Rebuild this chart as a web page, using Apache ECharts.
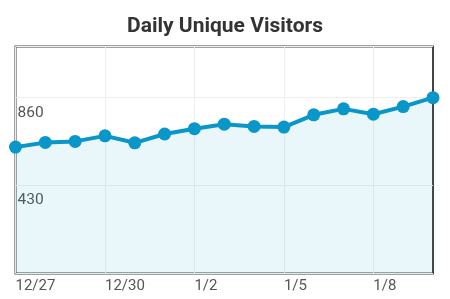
<!DOCTYPE html>
<html>
<head>
<meta charset="utf-8">
<script src="https://cdn.jsdelivr.net/npm/echarts@6/dist/echarts.min.js"></script>
<style>
  html, body { margin: 0; padding: 0; background: #fff; }
  #chart { width: 450px; height: 299px; }
</style>
</head>
<body>
<div id="chart"></div>
<script>
// daily visitors, 12/27 .. 1/10
const days = ['12/27', '12/28', '12/29', '12/30', '12/31', '1/1', '1/2', '1/3',
  '1/4', '1/5', '1/6', '1/7', '1/8', '1/9', '1/10'];
const visitors = [618, 641, 646, 673, 639, 682, 708, 730, 719, 716, 776, 805, 779, 816, 860];
const yTicks = [0, 430, 860];

const chart = echarts.init(document.getElementById('chart'));

chart.setOption({
  backgroundColor: '#ffffff',
  title: {
    text: 'Daily Unique Visitors',
    left: 'center',
    top: 11,
    textStyle: {
      fontFamily: 'Roboto',
      fontWeight: 'bold',
      fontSize: 21,
      color: '#333'
    }
  },
  grid: {
    left: 15.5,
    right: 17,
    top: 46.5,
    bottom: 25.5,
    show: true,
    borderColor: '#444',
    borderWidth: 2
  },
  xAxis: {
    type: 'category',
    data: days,
    boundaryGap: false,
    axisLine: { show: false },
    axisTick: { show: false },
    axisLabel: {
      interval: 2,
      align: 'left',
      margin: 5,
      fontFamily: 'Roboto',
      fontSize: 15,
      color: '#555'
    },
    splitLine: {
      show: true,
      interval: 2,
      lineStyle: { color: '#eeeeee', width: 1 }
    }
  },
  yAxis: {
    type: 'value',
    min: yTicks[0],
    max: 1110,
    interval: yTicks[1] - yTicks[0],
    axisLine: { show: false },
    axisTick: { show: false },
    axisLabel: {
      inside: true,
      showMinLabel: false,
      showMaxLabel: false,
      verticalAlign: 'top',
      margin: 2,
      padding: [7, 0, 0, 0],
      fontFamily: 'Roboto',
      fontSize: 15.5,
      color: '#555'
    },
    splitLine: {
      lineStyle: { color: '#eeeeee', width: 1 }
    }
  },
  series: [
    {
      name: 'visitors',
      type: 'line',
      data: visitors,
      clip: false,
      symbol: 'circle',
      symbolSize: 13,
      lineStyle: { color: '#0996c9', width: 4 },
      itemStyle: { color: '#0996c9' },
      areaStyle: { color: 'rgba(9,150,201,0.09)', opacity: 1 },
      z: 3
    }
  ]
});
</script>
</body>
</html>
